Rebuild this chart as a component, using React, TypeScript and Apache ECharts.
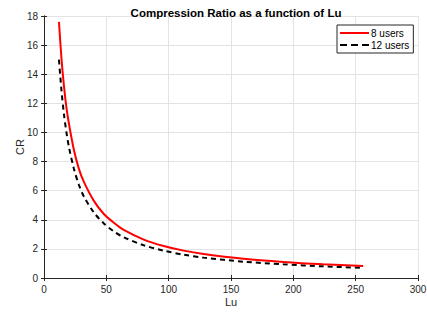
import React, { useEffect, useRef } from "react";
import * as echarts from "echarts";

const luValues = [12, 14, 16, 18, 20, 24, 28, 32, 40, 48, 56, 64, 80, 96, 112, 128, 160, 192, 224, 256];
const users8 = [17.6, 15.1, 13.2, 11.7, 10.6, 8.8, 7.5, 6.6, 5.3, 4.4, 3.8, 3.3, 2.64, 2.2, 1.88, 1.65, 1.32, 1.1, 0.94, 0.82];
const users12 = [15.0, 12.9, 11.25, 10.0, 9.0, 7.5, 6.4, 5.6, 4.5, 3.75, 3.2, 2.8, 2.25, 1.88, 1.6, 1.4, 1.12, 0.94, 0.8, 0.7];
const seriesNames = ["8 users", "12 users"];
const xName = "Lu";
const yName = "CR";

export default function App() {
  const ref = useRef<HTMLDivElement>(null);
  useEffect(() => {
    if (!ref.current) return;
    const chart = echarts.init(ref.current, undefined, { renderer: "svg" });
    const font = "Liberation Sans, Arial, Helvetica, sans-serif";
    const axisColor = "#262626";
    const gridColor = "#e3e3e3";
    chart.setOption({
      animation: false,
      backgroundColor: "#ffffff",
      textStyle: { fontFamily: font },
      title: {
        text: "Compression Ratio as a function of Lu",
        left: 231,
        textAlign: "center",
        top: 2,
        textStyle: { fontSize: 11.5, fontWeight: "bold", color: "#000", fontFamily: font },
      },
      legend: {
        left: 337,
        top: 25,
        orient: "vertical",
        backgroundColor: "#ffffff",
        borderColor: "#262626",
        borderWidth: 1,
        borderRadius: 0,
        padding: [3, 4, 3, 2],
        itemGap: 2,
        itemWidth: 29,
        itemHeight: 10,
        itemStyle: { opacity: 0 },
        textStyle: { fontSize: 10, color: "#000", fontFamily: font, padding: [0, 0, 0, -3] },
        data: [
          { name: seriesNames[0], lineStyle: { width: 2 } },
          { name: seriesNames[1], lineStyle: { width: 2, type: [7, 4] } },
        ],
      },
      graphic: [
        {
          type: "text",
          x: 231,
          y: 302,
          style: { text: xName, fontSize: 11, fill: "#262626", fontFamily: font, align: "center", verticalAlign: "middle" },
        },
        {
          type: "text",
          x: 20,
          y: 147,
          rotation: Math.PI / 2,
          style: { text: yName, fontSize: 11, fill: "#262626", fontFamily: font, align: "center", verticalAlign: "middle" },
        },
      ],
      grid: { left: 44, right: 9, top: 16, bottom: 38, outerBoundsMode: "none", containLabel: false },
      xAxis: [
        {
          type: "value",
          min: 0,
          max: 300,
          interval: 50,
          axisLine: { onZero: false, lineStyle: { color: axisColor, width: 1 } },
          axisTick: { inside: true, length: 3, lineStyle: { color: axisColor } },
          axisLabel: { fontSize: 10, color: axisColor, margin: 6 },
          splitLine: { show: true, lineStyle: { color: gridColor, width: 1 } },
        },
        {
          type: "value",
          position: "top",
          min: 0,
          max: 300,
          interval: 50,
          axisLine: { show: true, lineStyle: { color: axisColor, width: 1 } },
          axisTick: { show: true, inside: true, length: 3, lineStyle: { color: axisColor } },
          axisLabel: { show: false },
          splitLine: { show: false },
        },
      ],
      yAxis: [
        {
          type: "value",
          min: 0,
          max: 18,
          interval: 2,
          axisLine: { show: true, onZero: false, lineStyle: { color: axisColor, width: 1 } },
          axisTick: { show: true, inside: true, length: 3, lineStyle: { color: axisColor } },
          axisLabel: { fontSize: 10, color: axisColor, margin: 6 },
          splitLine: { show: true, lineStyle: { color: gridColor, width: 1 } },
        },
        {
          type: "value",
          position: "right",
          min: 0,
          max: 18,
          interval: 2,
          axisLine: { show: true, lineStyle: { color: axisColor, width: 1 } },
          axisTick: { show: true, inside: true, length: 3, lineStyle: { color: axisColor } },
          axisLabel: { show: false },
          splitLine: { show: false },
        },
      ],
      series: [
        {
          name: seriesNames[0],
          type: "line",
          data: luValues.map((x, i) => [x, users8[i]]),
          symbol: "none",
          smooth: 0.3,
          lineStyle: { color: "#ff0000", width: 2, type: "solid" },
          itemStyle: { color: "#ff0000" },
          z: 3,
        },
        {
          name: seriesNames[1],
          type: "line",
          data: luValues.map((x, i) => [x, users12[i]]),
          symbol: "none",
          smooth: 0.3,
          lineStyle: { color: "#000000", width: 2, type: [5, 4] },
          itemStyle: { color: "#000000" },
          z: 2,
        },
      ],
    });
    return () => chart.dispose();
  }, []);
  return <div ref={ref} style={{ width: 427, height: 316, position: "absolute", left: 0, top: 0 }} />;
}
